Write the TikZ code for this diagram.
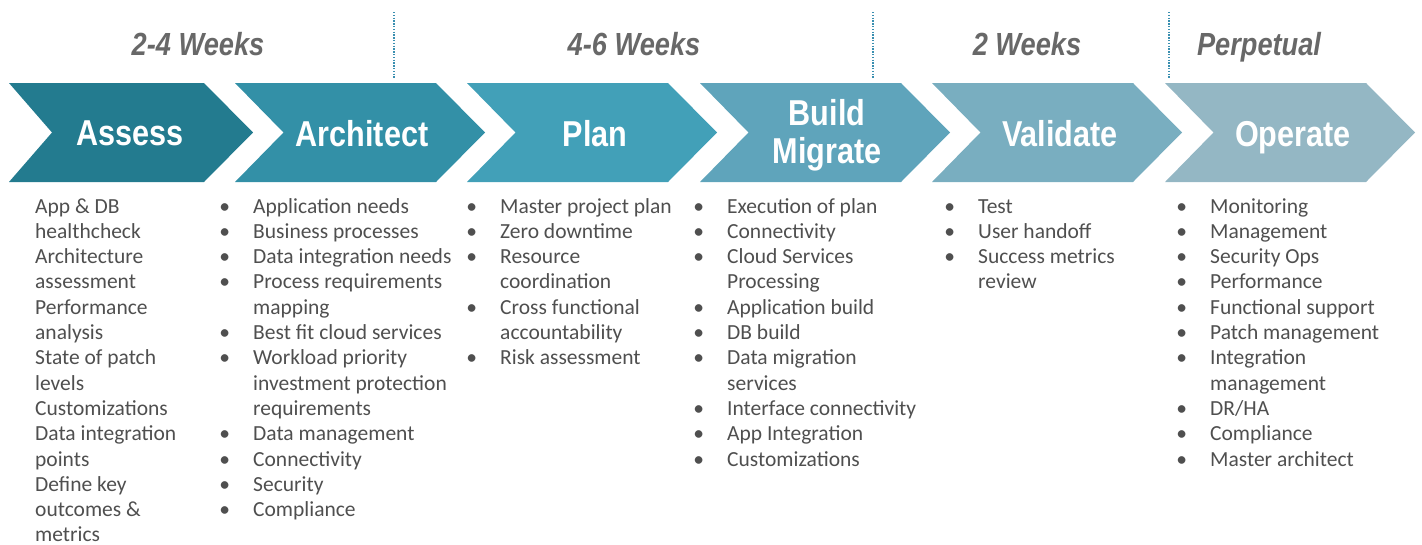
\documentclass[tikz,border=0pt]{standalone}
\usepackage{fontspec}
\setmainfont{Carlito}
\newfontfamily\headfont{Liberation Sans}
\usepackage{graphicx}
\definecolor{cA}{HTML}{237B8F}
\definecolor{cB}{HTML}{3390A7}
\definecolor{cC}{HTML}{42A0B8}
\definecolor{cD}{HTML}{5FA4BB}
\definecolor{cE}{HTML}{79AEC0}
\definecolor{cF}{HTML}{94B7C4}
\definecolor{txt}{HTML}{4F4F4F}
\definecolor{hdr}{HTML}{686868}
\definecolor{dotc}{HTML}{3A8FB0}
\newcommand{\cond}[1]{\scalebox{0.85}[1]{#1}}
\newcommand{\bl}{\leavevmode\llap{\makebox[0pt]{\textbullet}\hspace{28.5pt}}}
\newcommand{\lines}[1]{\parbox[t]{230pt}{\raggedright #1}}
\begin{document}
\begin{tikzpicture}[x=1pt,y=-1pt,
  phase/.style={font=\headfont\bfseries\fontsize{36}{38}\selectfont, text=white, inner sep=0, anchor=base},
  period/.style={font=\headfont\bfseries\itshape\fontsize{32}{34}\selectfont, text=hdr, inner sep=0, anchor=base},
  column/.style={font=\fontsize{21.5}{25.3}\selectfont, text=txt, inner sep=0, anchor=base west},
  divider/.style={draw=dotc, line width=1.4pt, dash pattern=on 1.4pt off 1.4pt}]
\useasboundingbox (0,0) rectangle (1422,544);
% chevrons
\fill[cA] (9,83) -- (204,83) -- (253,132.5) -- (204,182) -- (9,182) -- (52,132.5) -- cycle;
\foreach \L/\c in {235/cB, 467/cC, 700/cD, 932/cE, 1165/cF}{
  \fill[\c] (\L,83) -- (\L+201,83) -- (\L+250,132.5) -- (\L+201,182) -- (\L,182) -- (\L+48.5,132.5) -- cycle;
}
% dividers
\coordinate (d1a) at (394,12); \coordinate (d1b) at (394,78);
\coordinate (d2a) at (873,12); \coordinate (d2b) at (873,78);
\coordinate (d3a) at (1169,12); \coordinate (d3b) at (1169,78);
\draw[divider] (d1a) -- (d1b);
\draw[divider] (d2a) -- (d2b);
\draw[divider] (d3a) -- (d3b);
% periods
\node[period] (p1) at (198,55) {\cond{2-4 Weeks}};
\node[period] (p2) at (634,55) {\cond{4-6 Weeks}};
\node[period] (p3) at (1027,55) {\cond{2 Weeks}};
\node[period] (p4) at (1259,55) {\cond{Perpetual}};
% phase labels
\node[phase] (assess) at (130,145) {\cond{Assess}};
\node[phase] (architect) at (362,146) {\cond{Architect}};
\node[phase] (plan) at (595,146) {\cond{Plan}};
\node[phase] (build) at (827,125) {\cond{Build}};
\node[phase] (migrate) at (827,163) {\cond{Migrate}};
\node[phase] (validate) at (1060,146) {\cond{Validate}};
\node[phase] (operate) at (1293,146) {\cond{Operate}};
% columns
\node[column] (colA) at (35,213) {\lines{App \& DB\\healthcheck\\Architecture\\assessment\\Performance\\analysis\\State of patch\\levels\\Customizations\\Data integration\\points\\Define key\\outcomes \&\\metrics}};
\node[column] (colB) at (253,213) {\lines{\bl Application needs\\\bl Business processes\\\bl Data integration needs\\\bl Process requirements\\mapping\\\bl Best fit cloud services\\\bl Workload priority\\investment protection\\requirements\\\bl Data management\\\bl Connectivity\\\bl Security\\\bl Compliance}};
\node[column] (colC) at (500,213) {\lines{\bl Master project plan\\\bl Zero downtime\\\bl Resource\\coordination\\\bl Cross functional\\accountability\\\bl Risk assessment}};
\node[column] (colD) at (727,213) {\lines{\bl Execution of plan\\\bl Connectivity\\\bl Cloud Services\\Processing\\\bl Application build\\\bl DB build\\\bl Data migration\\services\\\bl Interface connectivity\\\bl App Integration\\\bl Customizations}};
\node[column] (colE) at (978,213) {\lines{\bl Test\\\bl User handoff\\\bl Success metrics\\review}};
\node[column] (colF) at (1210,213) {\lines{\bl Monitoring\\\bl Management\\\bl Security Ops\\\bl Performance\\\bl Functional support\\\bl Patch management\\\bl Integration\\management\\\bl DR/HA\\\bl Compliance\\\bl Master architect}};
\end{tikzpicture}
\end{document}
